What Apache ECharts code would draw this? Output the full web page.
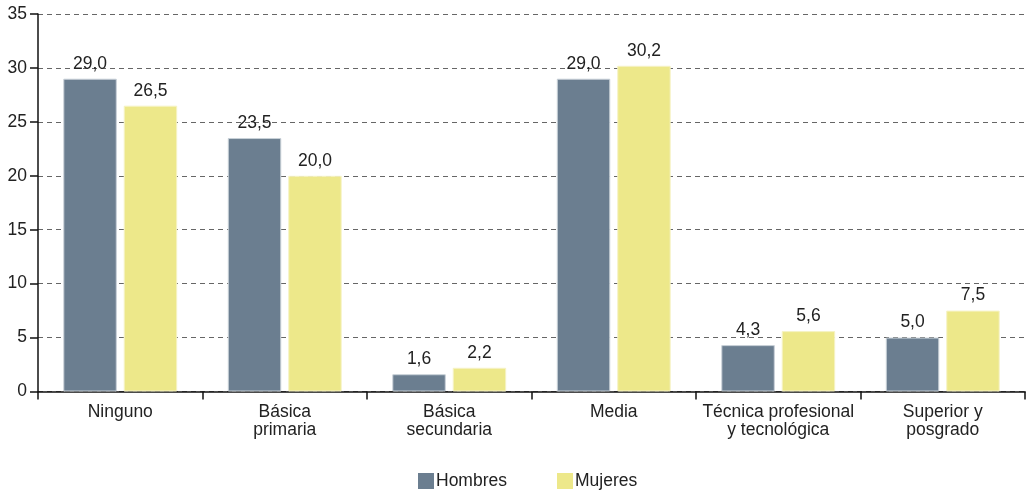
<!DOCTYPE html>
<html>
<head>
<meta charset="utf-8">
<script src="https://cdn.jsdelivr.net/npm/echarts@6/dist/echarts.min.js"></script>
<style>
html,body{margin:0;padding:0;background:#fff;}
#chart{width:1029px;height:494px;}
</style>
</head>
<body>
<div id="chart"></div>
<script>
var categories = ['Ninguno', 'Básica\nprimaria', 'Básica\nsecundaria', 'Media', 'Técnica profesional\ny tecnológica', 'Superior y\nposgrado'];
var hombres = [29.0, 23.5, 1.6, 29.0, 4.3, 5.0];
var mujeres = [26.5, 20.0, 2.2, 30.2, 5.6, 7.5];
var yTicks = [0, 5, 10, 15, 20, 25, 30, 35];

var chart = echarts.init(document.getElementById('chart'));
var font = 'Liberation Sans, Arial, sans-serif';
var labelCfg = {
  show: true, position: 'top', distance: 6,
  fontFamily: font, fontSize: 17.5, color: '#222',
  formatter: function (p) { return p.value.toFixed(1).replace('.', ','); }
};
chart.setOption({
  animation: false,
  grid: { left: 38, right: 4, top: 14, bottom: 102.5, containLabel: false },
  legend: {
    top: 467, left: 413,
    itemWidth: 16, itemHeight: 16, itemGap: 50,
    icon: 'rect',
    itemStyle: { borderWidth: 0 },
    textStyle: { fontFamily: font, fontSize: 17.5, color: '#222', padding: [0, 0, 0, -3] },
    data: ['Hombres', 'Mujeres']
  },
  xAxis: {
    type: 'category', data: categories,
    axisLine: { lineStyle: { color: '#111', width: 1.5 } },
    axisTick: { show: true, length: 8, alignWithLabel: false, lineStyle: { color: '#111', width: 1.5 } },
    axisLabel: { fontFamily: font, fontSize: 17.5, color: '#222', margin: 12, lineHeight: 18, interval: 0 }
  },
  yAxis: {
    type: 'value', min: yTicks[0], max: yTicks[yTicks.length - 1], interval: 5,
    axisLine: { show: true, lineStyle: { color: '#111', width: 1.5 } },
    axisTick: { show: true, length: 8, lineStyle: { color: '#111', width: 1.5 } },
    axisLabel: { fontFamily: font, fontSize: 17.5, color: '#222', margin: 11 },
    splitLine: { show: true, lineStyle: { color: '#666', type: [5, 4], width: 1 } }
  },
  series: [
    {
      name: 'Hombres', type: 'bar', data: hombres,
      barWidth: '32.5%', barGap: '13%',
      itemStyle: { color: '#6b7e90', borderColor: '#c9d1d8', borderWidth: 1 },
      label: labelCfg
    },
    {
      name: 'Mujeres', type: 'bar', data: mujeres,
      barWidth: '32.5%',
      itemStyle: { color: '#ede88a', borderColor: '#f6f3c6', borderWidth: 1 },
      label: labelCfg
    }
  ]
});
</script>
</body>
</html>
